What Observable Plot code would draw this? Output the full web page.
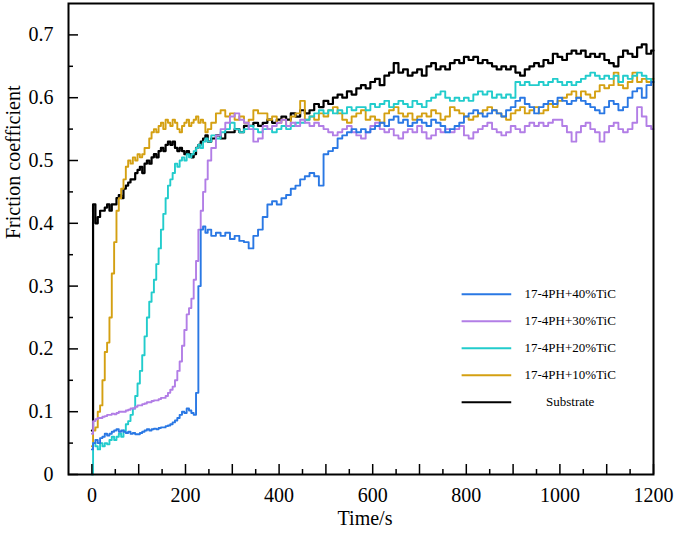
<!DOCTYPE html>
<html>
<head>
<meta charset="utf-8">
<script src="https://cdn.jsdelivr.net/npm/d3@7"></script>
<script src="https://cdn.jsdelivr.net/npm/@observablehq/plot@0.6"></script>
<style>
  body { margin: 0; background: #fff; }
  #chart svg { display: block; }
</style>
</head>
<body>
<div id="chart"></div>
<script>
// ---- time samples (s) ----
const timeEarly = [
  0, 5, 10, 15, 20, 25, 30, 35, 40, 45,
  50, 55, 60, 65, 70, 75, 80, 85, 90, 95,
  100, 105, 110, 115, 120, 125, 130, 135, 140, 145,
  150, 155, 160, 165, 170, 175, 180, 185, 190, 195,
  200, 205, 210, 215, 220, 225, 230, 235, 240, 245,
  250
];
const timeLate = [
  260, 270, 280, 290, 300, 310, 320, 330, 340, 350,
  360, 370, 380, 390, 400, 410, 420, 430, 440, 450,
  460, 470, 480, 490, 500, 510, 520, 530, 540, 550,
  560, 570, 580, 590, 600, 610, 620, 630, 640, 650,
  660, 670, 680, 690, 700, 710, 720, 730, 740, 750,
  760, 770, 780, 790, 800, 810, 820, 830, 840, 850,
  860, 870, 880, 890, 900, 910, 920, 930, 940, 950,
  960, 970, 980, 990, 1000, 1010, 1020, 1030, 1040, 1050,
  1060, 1070, 1080, 1090, 1100, 1110, 1120, 1130, 1140, 1150,
  1160, 1170, 1180, 1190, 1200
];

// ---- Substrate ----
const substrateEarly = [
  0.07, 0.43, 0.40, 0.41, 0.42, 0.42, 0.425, 0.43, 0.42, 0.43,
  0.43, 0.44, 0.445, 0.44, 0.455, 0.46, 0.465, 0.47, 0.47, 0.48,
  0.485, 0.49, 0.48, 0.495, 0.50, 0.495, 0.505, 0.51, 0.505, 0.515,
  0.52, 0.515, 0.525, 0.53, 0.525, 0.53, 0.52, 0.515, 0.52, 0.515,
  0.51, 0.515, 0.51, 0.505, 0.51, 0.52, 0.525, 0.53, 0.535, 0.54,
  0.53
];
const substrateLate = [
  0.535, 0.54, 0.535, 0.545, 0.545, 0.55, 0.545, 0.555, 0.555, 0.56,
  0.555, 0.56, 0.565, 0.56, 0.565, 0.57, 0.565, 0.575, 0.57, 0.58,
  0.575, 0.58, 0.59, 0.585, 0.595, 0.59, 0.60, 0.605, 0.60, 0.61,
  0.605, 0.615, 0.62, 0.615, 0.625, 0.63, 0.62, 0.635, 0.64, 0.655,
  0.64, 0.645, 0.635, 0.64, 0.645, 0.635, 0.65, 0.655, 0.645, 0.65,
  0.645, 0.655, 0.66, 0.655, 0.665, 0.66, 0.665, 0.655, 0.66, 0.655,
  0.65, 0.645, 0.65, 0.645, 0.65, 0.64, 0.635, 0.645, 0.65, 0.655,
  0.65, 0.66, 0.655, 0.67, 0.665, 0.66, 0.67, 0.675, 0.67, 0.675,
  0.665, 0.67, 0.665, 0.67, 0.66, 0.655, 0.65, 0.665, 0.675, 0.67,
  0.665, 0.68, 0.685, 0.67, 0.675
];

// ---- 17-4PH+10%TiC ----
const tic10Early = [
  0.045, 0.07, 0.075, 0.10, 0.11, 0.15, 0.195, 0.21, 0.25, 0.32,
  0.37, 0.42, 0.44, 0.455, 0.47, 0.49, 0.50, 0.495, 0.505, 0.50,
  0.51, 0.505, 0.51, 0.52, 0.52, 0.535, 0.545, 0.55, 0.545, 0.555,
  0.56, 0.55, 0.565, 0.56, 0.555, 0.565, 0.56, 0.55, 0.545, 0.555,
  0.56, 0.565, 0.555, 0.56, 0.565, 0.57, 0.56, 0.565, 0.56, 0.545,
  0.55
];
const tic10Late = [
  0.56, 0.575, 0.58, 0.57, 0.575, 0.565, 0.57, 0.56, 0.565, 0.58,
  0.575, 0.575, 0.565, 0.57, 0.56, 0.565, 0.555, 0.57, 0.575, 0.595,
  0.565, 0.57, 0.565, 0.575, 0.57, 0.58, 0.585, 0.575, 0.565, 0.56,
  0.57, 0.575, 0.58, 0.565, 0.57, 0.565, 0.56, 0.575, 0.58, 0.585,
  0.575, 0.57, 0.575, 0.565, 0.57, 0.575, 0.57, 0.58, 0.575, 0.565,
  0.57, 0.585, 0.58, 0.575, 0.57, 0.565, 0.57, 0.575, 0.58, 0.585,
  0.58, 0.575, 0.57, 0.565, 0.575, 0.58, 0.585, 0.575, 0.58, 0.585,
  0.575, 0.58, 0.59, 0.585, 0.595, 0.60, 0.605, 0.61, 0.60, 0.61,
  0.605, 0.60, 0.61, 0.62, 0.615, 0.62, 0.64, 0.62, 0.615, 0.625,
  0.64, 0.625, 0.63, 0.625, 0.63
];

// ---- 17-4PH+20%TiC ----
const tic20Early = [
  0.0, 0.05, 0.045, 0.04, 0.05, 0.045, 0.05, 0.048, 0.055, 0.06,
  0.055, 0.06, 0.065, 0.06, 0.07, 0.08, 0.085, 0.095, 0.105, 0.125,
  0.145, 0.165, 0.19, 0.22, 0.25, 0.275, 0.29, 0.31, 0.335, 0.36,
  0.39, 0.415, 0.44, 0.46, 0.47, 0.48, 0.495, 0.49, 0.50, 0.505,
  0.50, 0.51, 0.505, 0.51, 0.515, 0.52, 0.525, 0.52, 0.53, 0.535,
  0.53
];
const tic20Late = [
  0.54, 0.535, 0.545, 0.55, 0.56, 0.55, 0.545, 0.55, 0.555, 0.55,
  0.545, 0.55, 0.55, 0.545, 0.55, 0.555, 0.55, 0.555, 0.56, 0.56,
  0.565, 0.57, 0.575, 0.58, 0.575, 0.58, 0.575, 0.58, 0.575, 0.585,
  0.58, 0.585, 0.585, 0.58, 0.59, 0.585, 0.59, 0.595, 0.585, 0.59,
  0.595, 0.59, 0.585, 0.595, 0.59, 0.585, 0.595, 0.60, 0.605, 0.61,
  0.60, 0.595, 0.60, 0.595, 0.60, 0.595, 0.605, 0.61, 0.605, 0.61,
  0.60, 0.605, 0.60, 0.605, 0.60, 0.625, 0.62, 0.625, 0.62, 0.62,
  0.625, 0.62, 0.625, 0.63, 0.625, 0.62, 0.625, 0.62, 0.625, 0.63,
  0.635, 0.64, 0.635, 0.63, 0.635, 0.63, 0.635, 0.625, 0.635, 0.63,
  0.635, 0.64, 0.635, 0.63, 0.625
];

// ---- 17-4PH+30%TiC ----
const tic30Early = [
  0.065, 0.085, 0.088, 0.09, 0.09, 0.092, 0.093, 0.095, 0.095, 0.097,
  0.096, 0.098, 0.10, 0.10, 0.10, 0.102, 0.103, 0.105, 0.105, 0.108,
  0.11, 0.11, 0.112, 0.113, 0.115, 0.115, 0.117, 0.118, 0.118, 0.12,
  0.122, 0.122, 0.125, 0.13, 0.135, 0.14, 0.15, 0.165, 0.18, 0.205,
  0.23, 0.255, 0.265, 0.28, 0.31, 0.34, 0.39, 0.42, 0.45, 0.47,
  0.50
];
const tic30Late = [
  0.52, 0.54, 0.55, 0.56, 0.57, 0.575, 0.565, 0.56, 0.55, 0.53,
  0.535, 0.555, 0.55, 0.555, 0.56, 0.565, 0.555, 0.56, 0.555, 0.565,
  0.56, 0.555, 0.56, 0.555, 0.55, 0.545, 0.54, 0.545, 0.55, 0.555,
  0.545, 0.54, 0.535, 0.545, 0.555, 0.56, 0.55, 0.545, 0.55, 0.54,
  0.535, 0.545, 0.55, 0.545, 0.555, 0.545, 0.535, 0.54, 0.55, 0.545,
  0.55, 0.545, 0.55, 0.555, 0.54, 0.535, 0.545, 0.55, 0.555, 0.56,
  0.55, 0.545, 0.54, 0.545, 0.555, 0.55, 0.545, 0.555, 0.56, 0.555,
  0.56, 0.555, 0.56, 0.565, 0.565, 0.555, 0.545, 0.53, 0.545, 0.555,
  0.56, 0.55, 0.545, 0.53, 0.545, 0.555, 0.56, 0.55, 0.545, 0.55,
  0.56, 0.585, 0.57, 0.555, 0.55
];

// ---- 17-4PH+40%TiC ----
const tic40Early = [
  0.04, 0.05, 0.055, 0.05, 0.058, 0.06, 0.065, 0.062, 0.065, 0.068,
  0.07, 0.072, 0.068, 0.07, 0.068, 0.066, 0.068, 0.065, 0.066, 0.064,
  0.064, 0.066, 0.068, 0.07, 0.072, 0.07, 0.072, 0.073, 0.072, 0.074,
  0.075, 0.075, 0.077, 0.078, 0.08, 0.083, 0.086, 0.09, 0.095, 0.10,
  0.098, 0.105, 0.102, 0.098, 0.095, 0.13, 0.30, 0.39, 0.395, 0.385,
  0.39
];
const tic40Late = [
  0.38, 0.385, 0.38, 0.385, 0.375, 0.38, 0.372, 0.37, 0.36, 0.38,
  0.39, 0.41, 0.43, 0.435, 0.43, 0.44, 0.445, 0.455, 0.46, 0.47,
  0.475, 0.48, 0.475, 0.46, 0.51, 0.515, 0.52, 0.535, 0.54, 0.545,
  0.55, 0.545, 0.55, 0.545, 0.55, 0.555, 0.56, 0.555, 0.565, 0.57,
  0.56, 0.565, 0.555, 0.56, 0.565, 0.56, 0.555, 0.565, 0.56, 0.555,
  0.545, 0.55, 0.555, 0.56, 0.57, 0.575, 0.58, 0.575, 0.57, 0.575,
  0.58, 0.575, 0.57, 0.58, 0.585, 0.595, 0.60, 0.59, 0.585, 0.575,
  0.585, 0.59, 0.595, 0.59, 0.60, 0.595, 0.59, 0.595, 0.60, 0.595,
  0.59, 0.585, 0.58, 0.575, 0.585, 0.595, 0.59, 0.58, 0.585, 0.60,
  0.61, 0.615, 0.60, 0.62, 0.625
];

// ---- series names / colours (legend order) ----
const seriesNames = ["17-4PH+40%TiC", "17-4PH+30%TiC", "17-4PH+20%TiC", "17-4PH+10%TiC", "Substrate"];
const seriesColors = ["#2a78e4", "#b27ee6", "#22cccc", "#d4a012", "#000000"];
const seriesEarly = [tic40Early, tic30Early, tic20Early, tic10Early, substrateEarly];
const seriesLate = [tic40Late, tic30Late, tic20Late, tic10Late, substrateLate];

// ---- ticks ----
const xTickLabels = [0, 200, 400, 600, 800, 1000, 1200];
const xMajorTicks = [0, 100, 200, 300, 400, 500, 600, 700, 800, 900, 1000, 1100, 1200];
const xMinorTicks = [50, 150, 250, 350, 450, 550, 650, 750, 850, 950, 1050, 1150];
const yTickLabels = [0, 0.1, 0.2, 0.3, 0.4, 0.5, 0.6, 0.7];
const yMinorTicks = [0.05, 0.15, 0.25, 0.35, 0.45, 0.55, 0.65];

// ---- build table ----
const times = timeEarly.concat(timeLate);
const rows = [];
seriesNames.forEach((name, i) => {
  const vals = seriesEarly[i].concat(seriesLate[i]);
  vals.forEach((v, j) => rows.push({time: times[j], mu: v, series: name}));
});
// draw order: substrate first, 40% last
const drawOrder = ["Substrate", "17-4PH+10%TiC", "17-4PH+20%TiC", "17-4PH+30%TiC", "17-4PH+40%TiC"];

// legend layout (data units)
const legendX1 = 790, legendX2 = 896, legendTextX = 1022;
const legendTop = 0.287, legendStep = 0.043;
const legend = seriesNames.map((name, i) => ({name, y: legendTop - i * legendStep}));

const W = 679, H = 534;
const mL = 68, mR = 26, mT = 3, mB = 60;
const plotW = W - mL - mR, plotH = H - mT - mB;
const font = "'Liberation Serif', 'Times New Roman', serif";

const chart = Plot.plot({
  width: W,
  height: H,
  marginLeft: mL, marginRight: mR, marginTop: mT, marginBottom: mB,
  style: {fontFamily: font, fontSize: "20px", color: "#000", background: "#fff"},
  x: {domain: [-50, 1200], ticks: xTickLabels, tickSize: 0, tickPadding: 13, tickFormat: d => String(d), label: null},
  y: {domain: [0, 0.75], ticks: yTickLabels, tickSize: 0, tickPadding: 15, tickFormat: d => d === 0 ? "0" : d.toFixed(1), label: null},
  color: {domain: seriesNames, range: seriesColors},
  marks: [
    ...drawOrder.map(name => Plot.line(rows.filter(r => r.series === name), {
      x: "time", y: "mu", stroke: "series", strokeWidth: name === "Substrate" ? 2.2 : 1.9, curve: "step"
    })),
    // inward ticks
    Plot.tickX(xMajorTicks, {x: d => d, insetTop: plotH - 10, stroke: "#000", strokeWidth: 1.5}),
    Plot.tickX(xMinorTicks, {x: d => d, insetTop: plotH - 5, stroke: "#000", strokeWidth: 1.5}),
    Plot.tickY(yTickLabels, {y: d => d, insetRight: plotW - 10, stroke: "#000", strokeWidth: 1.5}),
    Plot.tickY(yMinorTicks, {y: d => d, insetRight: plotW - 5, stroke: "#000", strokeWidth: 1.5}),
    Plot.frame({stroke: "#000", strokeWidth: 2}),
    // legend
    Plot.link(legend, {x1: () => legendX1, x2: () => legendX2, y1: "y", y2: "y", stroke: "name", strokeWidth: 2}),
    Plot.text(legend, {x: () => legendTextX, y: "y", text: "name", fontSize: 13, fill: "#000", textAnchor: "middle"}),
    // axis titles
    Plot.text(["Time/s"], {frameAnchor: "bottom", dy: 50, dx: 4, text: d => d, fontSize: 20, fill: "#000"}),
    Plot.text(["Friction coefficient"], {frameAnchor: "left", dx: -55, rotate: -90, text: d => d, fontSize: 20, fill: "#000"})
  ]
});
document.getElementById("chart").appendChild(chart);
</script>
</body>
</html>
